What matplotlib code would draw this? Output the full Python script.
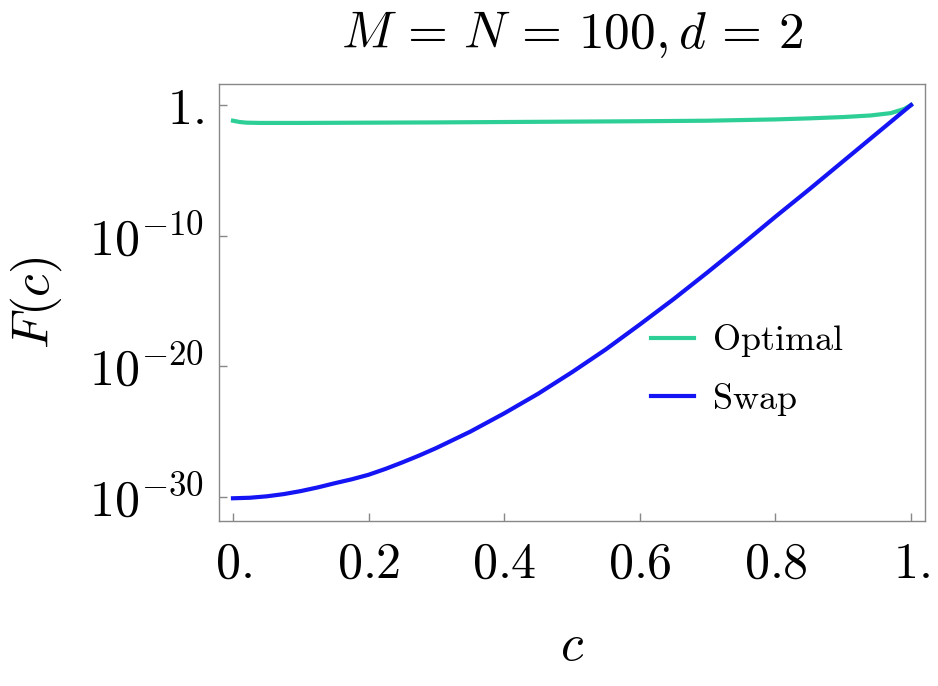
import numpy as np
import matplotlib
matplotlib.use("Agg")
from matplotlib import pyplot as plt

plt.rcParams['mathtext.fontset'] = 'cm'
plt.rcParams['font.family'] = ['DejaVu Serif']

# values: c and log10 F(c)
c_opt = [0.0, 0.01, 0.02, 0.04, 0.1, 0.2, 0.3, 0.4, 0.5, 0.6, 0.7, 0.8,
         0.85, 0.9, 0.94, 0.97, 0.99, 1.0]
log_opt = [-1.2, -1.3, -1.35, -1.37, -1.37, -1.35, -1.33, -1.3, -1.27,
           -1.24, -1.2, -1.1, -1.02, -0.92, -0.8, -0.62, -0.3, 0.0]

c_swap = [0.0, 0.025, 0.05, 0.075, 0.1, 0.125, 0.15, 0.175, 0.2, 0.225,
          0.25, 0.275, 0.3, 0.35, 0.4, 0.45, 0.5, 0.55, 0.6, 0.65, 0.7,
          0.75, 0.8, 0.85, 0.9, 0.95, 1.0]
log_swap = [-30.1, -30.06, -29.95, -29.78, -29.55, -29.27, -28.95, -28.65,
            -28.3, -27.85, -27.35, -26.82, -26.25, -25.0, -23.6, -22.1,
            -20.45, -18.7, -16.8, -14.85, -12.8, -10.7, -8.55, -6.45,
            -4.3, -2.15, 0.0]

x_ticks = [0, 0.2, 0.4, 0.6, 0.8, 1.0]
x_labels = [r'$0.$', r'$0.2$', r'$0.4$', r'$0.6$', r'$0.8$', r'$1.$']
y_ticks = [1e0, 1e-10, 1e-20, 1e-30]
y_labels = [r'$1.$', r'$10^{-10}$', r'$10^{-20}$', r'$10^{-30}$']

fig = plt.figure(figsize=(9.38, 6.86), dpi=100)
ax = fig.add_axes([219 / 938, 1 - 521 / 686, 706 / 938, 437 / 686])

ax.plot(c_opt, 10.0 ** np.array(log_opt), color='#2ecf96', lw=3.0,
        label=r'$\mathrm{Optimal}$', solid_joinstyle='round')
ax.plot(c_swap, 10.0 ** np.array(log_swap), color='#1414f5', lw=3.0,
        label=r'$\mathrm{Swap}$', solid_joinstyle='round')

ax.set_yscale('log')
ax.set_xlim(-0.0206, 1.0206)
ax.set_ylim(10 ** -31.84, 10 ** 1.61)

ax.set_xticks(x_ticks)
ax.set_xticklabels(x_labels)
ax.set_yticks(y_ticks)
ax.set_yticklabels(y_labels)
ax.minorticks_off()
ax.tick_params(direction='in', length=6, width=1, color='#888888',
               labelsize=36, top=False, right=False)
ax.tick_params(axis='x', pad=13)
ax.tick_params(axis='y', pad=11)
for s in ax.spines.values():
    s.set_color('#888888')
    s.set_linewidth(1)

ax.set_title(r'$M\,=\,N\,=\,100, d\,=\,2$', fontsize=37, pad=26)
ax.set_xlabel(r'$c$', fontsize=37, labelpad=24)
ax.set_ylabel(r'$F(c)$', fontsize=37, labelpad=18)

ax.legend(loc='upper left', bbox_to_anchor=(0.612, 0.455), frameon=False,
          fontsize=26, handlelength=1.2, handletextpad=0.5,
          labelspacing=0.6, borderpad=0, borderaxespad=0)

fig.savefig('out.png', dpi=100)
